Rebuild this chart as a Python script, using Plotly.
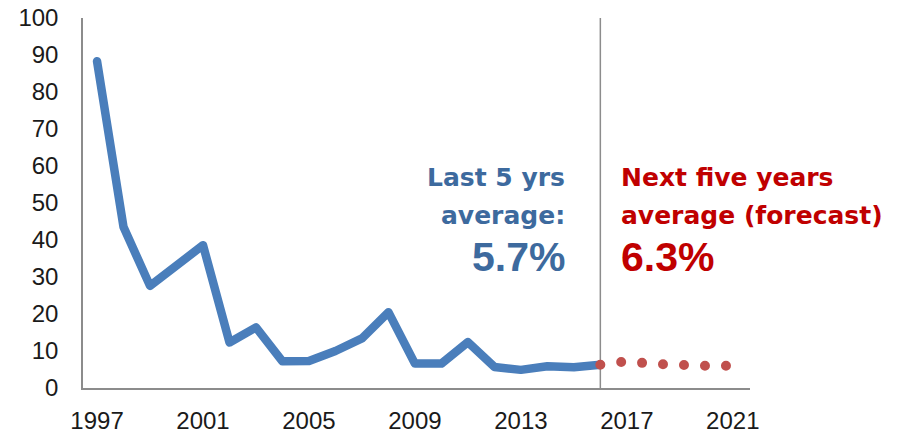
import plotly.graph_objects as go

years = list(range(1997, 2017))
values = [88.3, 43.5, 27.6, 33.0, 38.6, 12.3, 16.4, 7.2, 7.3, 10.0,
          13.4, 20.5, 6.6, 6.6, 12.4, 5.7, 4.9, 5.9, 5.6, 6.3]
forecast_years = [2016, 2017, 2018, 2019, 2020, 2021]
forecast_values = [6.3, 7.2, 6.5, 6.0, 6.0, 6.0]
x_ticks = [1997, 2001, 2005, 2009, 2013, 2017, 2021]
y_ticks = list(range(0, 101, 10))

blue = "#4A7EBB"
red = "#C0504D"
axis_gray = "#8C8C8C"
blue_text = "#3D6A9E"
red_text = "#C00000"

fig = go.Figure()
fig.add_trace(go.Scatter(x=years, y=values, mode="lines",
                         line=dict(color=blue, width=8.5), hoverinfo="skip"))
fig.add_trace(go.Scatter(x=forecast_years, y=forecast_values, mode="lines",
                         line=dict(color=red, width=10, dash="0px,21px"), hoverinfo="skip"))

fig.add_shape(type="line", x0=2016, x1=2016, y0=0, y1=100, xref="x", yref="y",
              line=dict(color=axis_gray, width=1.5), layer="below")

tfont = "DejaVu Sans"
pfont = "Liberation Sans"
fig.add_annotation(x=2014.74, y=56.8, text="<b>Last 5 yrs</b>", showarrow=False,
                   xanchor="right", yanchor="middle",
                   font=dict(family=tfont, size=25, color=blue_text))
fig.add_annotation(x=2014.74, y=46.5, text="<b>average:</b>", showarrow=False,
                   xanchor="right", yanchor="middle",
                   font=dict(family=tfont, size=25, color=blue_text))
fig.add_annotation(x=2014.74, y=35.4, text="<b>5.7%</b>", showarrow=False,
                   xanchor="right", yanchor="middle",
                   font=dict(family=pfont, size=41, color=blue_text))
fig.add_annotation(x=2016.7, y=56.8, text="<b>Next five years</b>", showarrow=False,
                   xanchor="left", yanchor="middle",
                   font=dict(family=tfont, size=25, color=red_text))
fig.add_annotation(x=2016.7, y=46.5, text="<b>average (forecast)</b>", showarrow=False,
                   xanchor="left", yanchor="middle",
                   font=dict(family=tfont, size=25, color=red_text))
fig.add_annotation(x=2016.7, y=35.4, text="<b>6.3%</b>", showarrow=False,
                   xanchor="left", yanchor="middle",
                   font=dict(family=pfont, size=41, color=red_text))

fig.update_layout(
    width=899, height=437,
    margin=dict(l=83, r=149, t=18, b=49),
    plot_bgcolor="white", paper_bgcolor="white",
    showlegend=False,
    font=dict(family="Liberation Sans", size=24, color="#1a1a1a"),
)
fig.update_xaxes(range=[1996.47, 2021.65], tickvals=x_ticks, ticktext=[str(t) for t in x_ticks],
                 showline=True, linecolor=axis_gray, linewidth=1.5, showgrid=False,
                 zeroline=False, ticks="", ticklabelstandoff=10, automargin=False,
                 tickfont=dict(size=24))
fig.update_yaxes(range=[0, 100], tickvals=y_ticks, showline=True, linecolor=axis_gray,
                 linewidth=1.5, showgrid=False, zeroline=False, ticks="",
                 ticklabelstandoff=18, automargin=False, tickfont=dict(size=24))

post = """
var tr = document.querySelectorAll('.scatterlayer .trace');
tr.forEach(function(t, i){
  t.querySelectorAll('path.js-line').forEach(function(p){
    p.style.strokeLinecap = 'round';
    p.style.strokeLinejoin = 'round';
  });
});
"""
fig.write_html("out.html", post_script=post)
